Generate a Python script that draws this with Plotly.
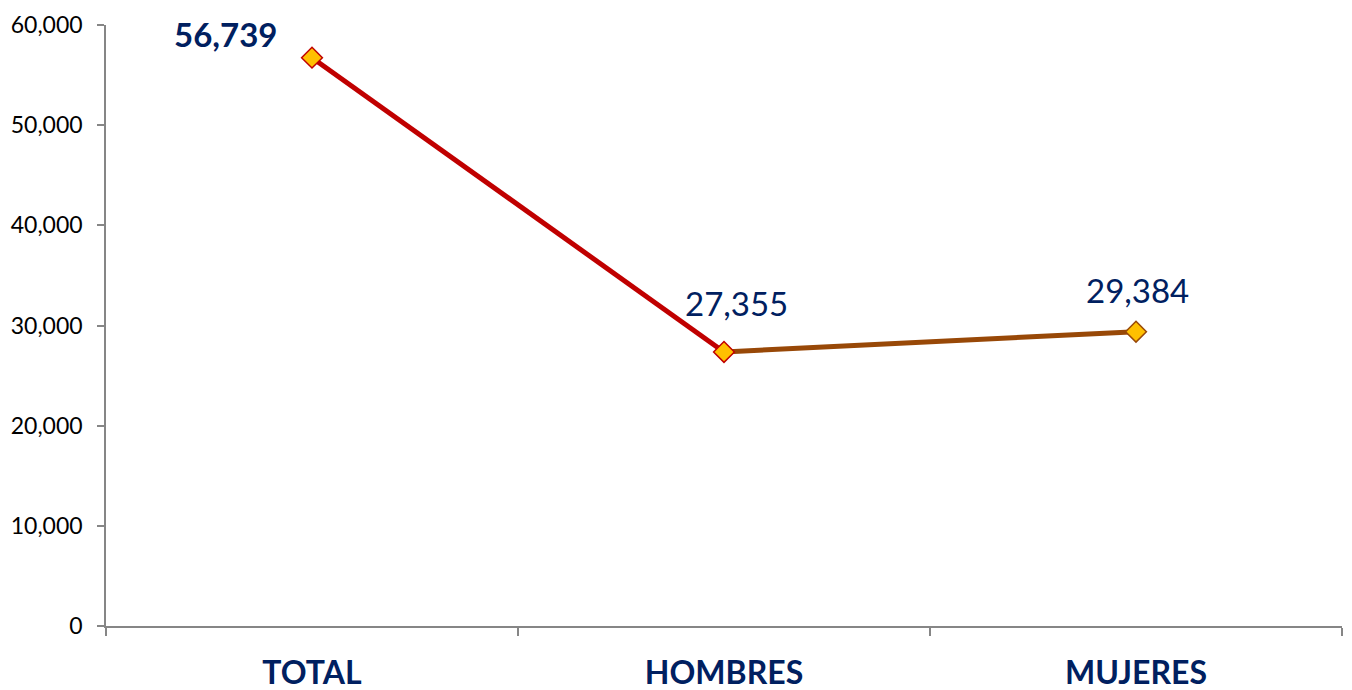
import plotly.graph_objects as go

categories = ["TOTAL", "HOMBRES", "MUJERES"]
values = [56739, 27355, 29384]
labels = ["56,739", "27,355", "29,384"]
y_ticks = [0, 10000, 20000, 30000, 40000, 50000, 60000]
y_tick_text = ["0", "10,000", "20,000", "30,000", "40,000", "50,000", "60,000"]

FONT = "Lato"
NAVY = "#002060"

fig = go.Figure()
fig.add_trace(go.Scatter(x=categories[0:2], y=values[0:2], mode="lines",
                         line=dict(color="#C00000", width=5), hoverinfo="skip"))
fig.add_trace(go.Scatter(x=categories[1:3], y=values[1:3], mode="lines",
                         line=dict(color="#984807", width=5), hoverinfo="skip"))
fig.add_trace(go.Scatter(x=categories, y=values, mode="markers",
                         marker=dict(symbol="diamond", size=16, color="#FFC000",
                                     line=dict(color=["#C00000", "#C00000", "#984807"], width=1.5))))

shifts = [(-87, 24), (12, 49), (1, 42)]
for i, (c, v, t) in enumerate(zip(categories, values, labels)):
    fig.add_annotation(x=c, y=v, text=("<b>%s</b>" % t) if i == 0 else t, showarrow=False,
                       xshift=shifts[i][0], yshift=shifts[i][1],
                       font=dict(family=FONT, size=33, color=NAVY))

fig.update_layout(
    width=1344, height=682, showlegend=False,
    paper_bgcolor="white", plot_bgcolor="white",
    margin=dict(l=98, r=10, t=17, b=64),
    xaxis=dict(type="category", range=[-0.5, 2.5], showline=True, linecolor="#868686", linewidth=1.5,
               ticks="outside", tickson="boundaries", ticklen=8, tickcolor="#868686", tickwidth=1.5,
               showgrid=False, zeroline=False, automargin=False, ticklabelstandoff=18,
               tickfont=dict(family=FONT, size=32, color=NAVY),
               tickvals=categories, ticktext=["<b>%s</b>" % c for c in categories]),
    yaxis=dict(range=[0, 60000], tickvals=y_ticks, ticktext=y_tick_text, showline=True,
               linecolor="#868686", linewidth=1.5, ticks="outside", ticklen=7, tickcolor="#868686",
               tickwidth=1.5, showgrid=False, zeroline=False, automargin=False, ticklabelstandoff=10,
               tickfont=dict(family=FONT, size=23, color="black")),
)
fig.write_html("out.html")
